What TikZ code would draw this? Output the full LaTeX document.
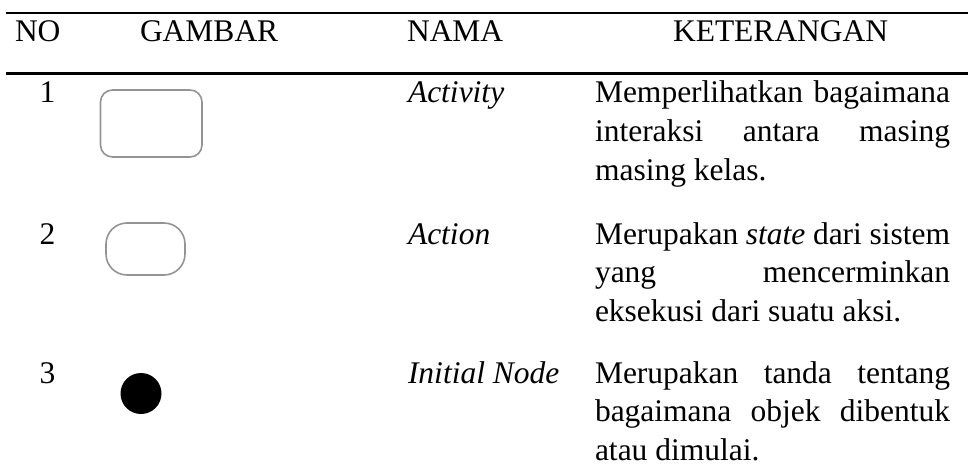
\documentclass[tikz,border=0pt]{standalone}
\usepackage{fontspec}
\setmainfont{Liberation Serif}
\begin{document}
\begin{tikzpicture}[x=1pt,y=-1pt,
  every node/.style={inner sep=0pt,outer sep=0pt,font=\fontsize{31.5}{38.7}\selectfont},
  cell/.style={anchor=base west},
  num/.style={anchor=base},
  nm/.style={anchor=base west,font=\fontsize{31.5}{38.7}\selectfont\itshape},
  rule/.style={line width=2.2pt},
  umlshape/.style={draw=black!42,line width=1.6pt,fill=white}
]
\useasboundingbox (0,0) rectangle (968,470);

% table rules
\coordinate (r1a) at (6,12.8);  \coordinate (r1b) at (968,12.8);
\coordinate (r2a) at (6,73.6);  \coordinate (r2b) at (968,73.6);
\draw[rule] (r1a) -- (r1b);
\draw[rule] (r2a) -- (r2b);

% header
\node[cell] (hno)  at (15,42)  {NO};
\node[cell] (hgb)  at (140,42) {GAMBAR};
\node[cell] (hnm)  at (407,42) {NAMA};
\node[cell] (hket) at (673,42) {KETERANGAN};

\newcommand{\justline}[1]{\makebox[355pt][s]{#1}}

% row 1
\node[num] (n1) at (47.5,103) {1};
\draw[umlshape,rounded corners=12pt] (100.5,90) rectangle (202,157);
\node[nm] (name1) at (408,103) {Activity};
\node[cell] (desc1) at (595,103) {\parbox[t]{355pt}{%
  \justline{Memperlihatkan bagaimana}\\
  \justline{interaksi antara masing}\\
  masing kelas.}};

% row 2
\node[num] (n2) at (47.5,244) {2};
\draw[umlshape,rounded corners=21pt] (106,223) rectangle (185,275);
\node[nm] (name2) at (408,244) {Action};
\node[cell] (desc2) at (595,244) {\parbox[t]{355pt}{%
  \justline{Merupakan \textit{state} dari sistem}\\
  \justline{yang mencerminkan}\\
  eksekusi dari suatu aksi.}};

% row 3
\node[num] (n3) at (47.5,383) {3};
\fill[black] (141,393.5) circle (20.5);
\node[nm] (name3) at (408,383) {Initial Node};
\node[cell] (desc3) at (595,383) {\parbox[t]{355pt}{%
  \justline{Merupakan tanda tentang}\\
  \justline{bagaimana objek dibentuk}\\
  atau dimulai.}};
\end{tikzpicture}
\end{document}
